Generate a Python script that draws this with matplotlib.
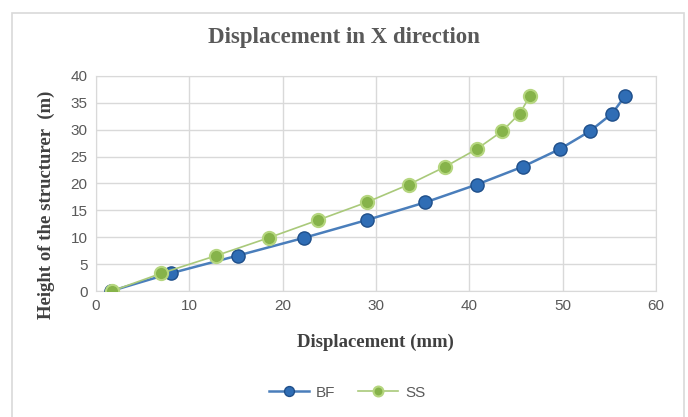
import numpy as np
import matplotlib.pyplot as plt
from matplotlib.patches import Rectangle

height = [0, 3.3, 6.6, 9.9, 13.2, 16.5, 19.8, 23.1, 26.4, 29.7, 33, 36.3]
bf = [1.6, 8.0, 15.2, 22.3, 29.0, 35.3, 40.8, 45.7, 49.7, 52.9, 55.3, 56.7]
ss = [1.7, 7.0, 12.9, 18.5, 23.8, 29.0, 33.5, 37.4, 40.8, 43.5, 45.4, 46.5]

fig = plt.figure(figsize=(6.88, 4.17), dpi=100)
ax = fig.add_axes([0.1395, 0.302, 0.814, 0.516])

# outer chart border
fig.patches.append(Rectangle((0.018, -0.01), 0.976, 0.978, transform=fig.transFigure,
                             fill=False, edgecolor='#d9d9d9', linewidth=1.2))

ax.plot(bf, height, color='#4a7ebb', lw=1.8, marker='o', ms=9.5,
        markerfacecolor='#2f6db5', markeredgecolor='#1f4f8a', markeredgewidth=1, label='BF', zorder=3)
ax.plot(ss, height, color='#a9c97a', lw=1.2, marker='o', ms=9.5,
        markerfacecolor='#86b34a', markeredgecolor='#b5d67f', markeredgewidth=1.5, label='SS', zorder=4)

ax.set_xlim(0, 60)
ax.set_ylim(0, 40)
ax.set_xticks(np.arange(0, 61, 10))
ax.set_yticks(np.arange(0, 41, 5))
ax.grid(True, color='#d9d9d9', lw=1)
ax.set_axisbelow(True)
for s in ax.spines.values():
    s.set_color('#d9d9d9')
ax.tick_params(length=0, labelsize=11, labelcolor='#595959', pad=6)
for lab in ax.get_xticklabels() + ax.get_yticklabels():
    lab.set_family('Liberation Sans')

fig.text(0.5, 0.909, 'Displacement in X direction', ha='center', va='center',
         fontsize=16.5, fontweight='bold', family='Liberation Serif', color='#595959')
fig.text(0.545, 0.18, 'Displacement (mm)', ha='center', va='center',
         fontsize=13.5, fontweight='bold', family='Liberation Serif', color='#404040')
fig.text(0.068, 0.51, 'Height of the structurer  (m)', ha='center', va='center', rotation=90,
         fontsize=13.5, fontweight='bold', family='Liberation Serif', color='#404040')

leg = fig.legend(loc='center', bbox_to_anchor=(0.505, 0.058), ncol=2, frameon=False,
                 prop={'family': 'Liberation Sans', 'size': 11}, handlelength=2.6,
                 columnspacing=1.5, markerscale=0.75, handletextpad=0.5)
for t in leg.get_texts():
    t.set_color('#595959')

fig.savefig('out.png', dpi=100)
